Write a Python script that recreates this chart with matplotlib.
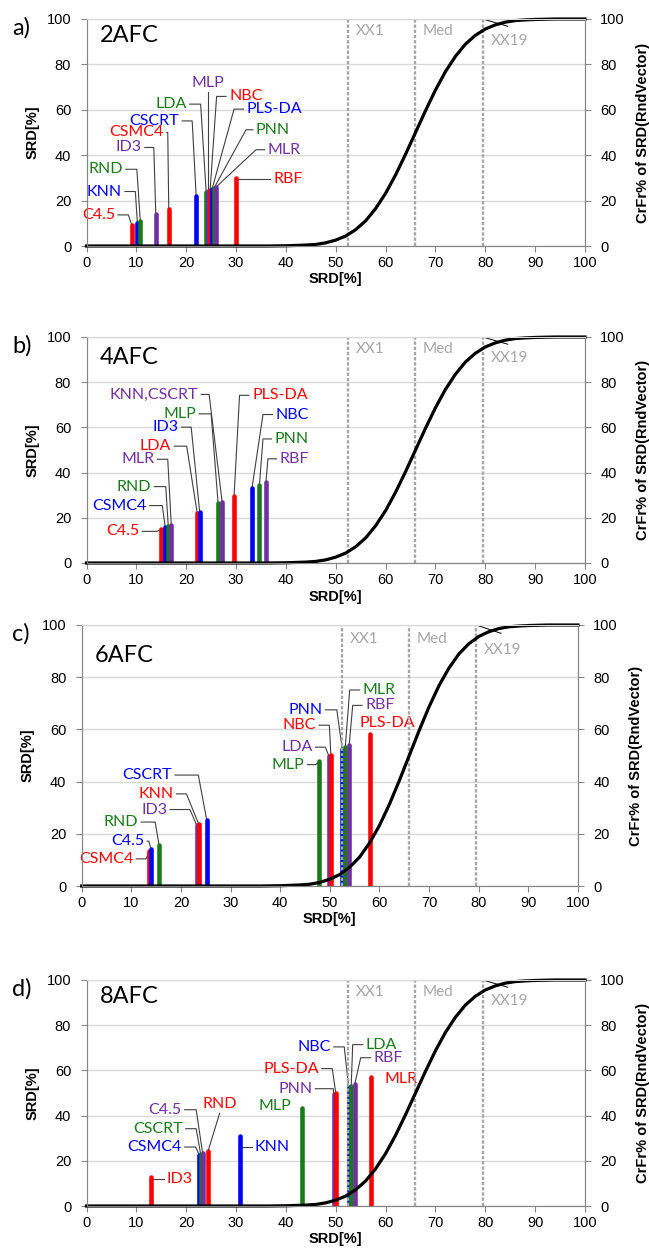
import matplotlib
matplotlib.use("Agg")
import matplotlib.pyplot as plt

plt.rcParams['font.family'] = ['Liberation Sans', 'DejaVu Sans']

# colours cycle by rank: red, blue, green, purple
palette = ['#ff0000', '#0000ff', '#1a7a1a', '#7030a0']
GRAY = '#a6a6a6'

# cumulative curve of SRD(RndVector)
cdf_x = [0, 36, 40, 44, 46, 48, 50, 52, 54, 56, 58, 60, 62, 64, 66, 68, 70,
         72, 74, 76, 78, 80, 82, 84, 86, 88, 90, 94, 100]
cdf_y = [0, 0, 0.1, 0.4, 0.7, 1.4, 2.6, 4.4, 7.2, 11.1, 16.5, 23.2, 31.3,
         40.4, 50, 59.6, 68.7, 76.8, 83.5, 88.9, 92.8, 95.6, 97.4, 98.6,
         99.3, 99.6, 99.8, 100, 100]
xx_names = ['XX1', 'Med', 'XX19']
xx_vals = [52.5, 65.9, 79.5]

# 2AFC
names_a = ["C4.5", "KNN", "RND", "ID3", "CSMC4", "CSCRT", "LDA", "MLP", "NBC",
           "PLS-DA", "PNN", "MLR", "RBF"]
srd_a = [9.1, 10.2, 10.8, 13.9, 16.5, 22.0, 24.0, 24.3, 24.8, 25.2, 25.6, 26.0, 29.9]

# 4AFC
names_b = ["C4.5", "CSMC4", "RND", "MLR", "LDA", "ID3", "MLP", "KNN,CSCRT",
           "PLS-DA", "NBC", "PNN", "RBF"]
srd_b = [15.0, 15.8, 16.4, 17.0, 22.2, 22.7, 26.4, 27.2, 29.6, 33.2, 34.7, 36.0]

# 6AFC
names_c = ["CSMC4", "C4.5", "RND", "ID3", "KNN", "CSCRT", "MLP", "LDA", "NBC",
           "PNN", "MLR", "RBF", "PLS-DA"]
srd_c = [13.6, 14.0, 15.6, 23.2, 23.6, 25.2, 47.9, 49.8, 50.2, 52.5, 53.1, 53.9, 58.1]

# 8AFC
names_d = ["ID3", "CSMC4", "CSCRT", "C4.5", "RND", "KNN", "MLP", "PNN", "PLS-DA",
           "NBC", "LDA", "RBF", "MLR"]
srd_d = [12.9, 22.6, 22.9, 23.3, 24.4, 30.8, 43.3, 49.6, 50.0, 52.6, 53.1, 53.8, 57.0]

# label placement (data coords), alignment and leader elbow
lab_a = dict(
    x=[5.7, 7.1, 7.3, 11.1, 15.5, 18.6, 20.1, 24.3, 28.6, 32.1, 34.0, 36.3, 37.5],
    y=[13.7, 24.0, 33.8, 43.4, 50.0, 55.1, 62.5, 71.8, 65.9, 60.3, 51.2, 42.4, 29.4],
    ha=['right'] * 7 + ['center'] + ['left'] * 5,
    elbow=[8.4, 9.8, 10.1, 13.5, 16.3, 21.2, 22.9, None, 26.1, 29.6, 32.0, 34.0, 29.9])
lab_b = dict(
    x=[10.6, 12.1, 13.0, 13.6, 17.0, 18.5, 22.0, 22.4, 33.2, 37.9, 37.7, 38.7],
    y=[14.0, 25.4, 33.8, 45.9, 51.7, 60.1, 66.0, 74.6, 74.2, 65.7, 54.9, 46.1],
    ha=['right'] * 8 + ['left'] * 4,
    elbow=[14.2, 15.2, 15.9, 16.3, 20.1, 21.0, 25.0, 24.6, 30.7, 35.4, 35.4, 36.4])
lab_c = dict(
    x=[10.4, 12.6, 11.4, 17.2, 18.5, 18.2, 44.9, 46.5, 47.2, 48.5, 56.6, 57.1, 55.9],
    y=[10.4, 17.2, 24.5, 29.3, 35.3, 42.5, 46.5, 53.2, 61.6, 67.5, 75.1, 69.2, 62.4],
    ha=['right'] * 10 + ['left'] * 3,
    elbow=[13.0, 13.5, 14.8, 21.8, 21.1, 23.5, 47.2, 49.1, 49.9, 51.4, 54.0, 54.6, None])
lab_d = dict(
    x=[16.1, 19.1, 19.3, 19.1, 26.7, 33.8, 41.1, 45.3, 46.6, 49.0, 56.0, 57.6, 59.7],
    y=[12.1, 26.1, 34.2, 42.6, 45.0, 26.1, 44.1, 51.9, 60.8, 70.4, 71.4, 65.6, 56.3],
    ha=['left', 'right', 'right', 'right', 'center', 'left', 'right', 'right',
        'right', 'right', 'left', 'left', 'left'],
    elbow=[12.9, 21.9, 22.0, 22.0, None, 30.8, None, 49.5, 49.3, 51.7, 53.4, 55.0, None])

W, H = 649, 1256
fig = plt.figure(figsize=(W / 100, H / 100), dpi=100)


def draw_panel(box, letter, title, title_off, names, srd, lab):
    left, top, right, bottom = box
    ax = fig.add_axes([left / W, 1 - bottom / H, (right - left) / W, (bottom - top) / H])
    ax.set_xlim(0, 100)
    ax.set_ylim(0, 100)
    ax.set_xticks(range(0, 101, 10))
    ax.set_yticks(range(0, 101, 20))
    ax.grid(axis='y', color='#d9d9d9', lw=1)
    ax.set_axisbelow(True)
    for s in ax.spines.values():
        s.set_color('#868686')
    ax.spines['top'].set_color('#d9d9d9')
    ax.tick_params(colors='#868686', labelcolor='black', length=4, labelsize=10.5)
    ax.tick_params(axis='y', pad=7)
    ax.tick_params(axis='x', pad=3)
    ax.set_xlabel('SRD[%]', fontweight='bold', fontsize=10.5, labelpad=2)
    ax.set_ylabel('SRD[%]', fontweight='bold', fontsize=10.5, labelpad=5)

    for i, v in enumerate(srd):
        ax.plot([v, v], [0, v], color=palette[i % 4], lw=3.3,
                solid_capstyle='round', zorder=3)

    for i, name in enumerate(names):
        lx, ly, ha, e = lab['x'][i], lab['y'][i], lab['ha'][i], lab['elbow'][i]
        v = srd[i]
        ax.text(lx, ly, name, color=palette[i % 4], ha=ha, va='center',
                fontsize=11.5, family=['Lato', 'DejaVu Sans'], zorder=4)
        if ha == 'center':
            ax.plot([lx, v], [ly - 4, v], color='#404040', lw=0.8, zorder=2)
        elif e is not None:
            gap = 0.6 if ha == 'right' else -0.6
            ax.plot([lx + gap, e, v], [ly, ly, v], color='#404040', lw=0.8, zorder=2)

    ax2 = ax.twinx()
    ax2.set_ylim(0, 100)
    ax2.set_yticks(range(0, 101, 20))
    for s in ax2.spines.values():
        s.set_color('#868686')
    ax2.spines['top'].set_color('#d9d9d9')
    ax2.tick_params(colors='#868686', labelcolor='black', length=4, labelsize=10.5, pad=7)
    ax2.set_ylabel('CrFr% of SRD(RndVector)', fontweight='bold', fontsize=10.5, labelpad=8)

    for name, xv in zip(xx_names, xx_vals):
        ax2.axvline(xv, color=GRAY, lw=1.7, ls=(0, (1.4, 0.8)))
        ty = 90.5 if name == 'XX19' else 94.5
        ax2.text(xv + 1.6, ty, name, color=GRAY, fontsize=11, va='center',
                 family=['Lato', 'DejaVu Sans'])
    ax2.plot([79.5, 84.5], [100, 96.8], color='black', lw=0.7)
    ax2.plot(cdf_x, cdf_y, color='black', lw=2.3, clip_on=False)

    ax.annotate(title, xy=(0, 1), xycoords='axes fraction', xytext=(13, -title_off),
                textcoords='offset pixels', ha='left', va='top', fontsize=17,
                family=['Lato', 'DejaVu Sans'])
    fig.text(12 / W, 1 - (top + 9) / H, letter, fontsize=17, ha='left', va='center',
             family=['Lato', 'DejaVu Sans'])


draw_panel((86.5, 19, 585, 246), 'a)', '2AFC', 6, names_a, srd_a, lab_a)
draw_panel((86.5, 337, 585, 563), 'b)', '4AFC', 10, names_b, srd_b, lab_b)
draw_panel((81.7, 625, 578, 886), 'c)', '6AFC', 20, names_c, srd_c, lab_c)
draw_panel((86.5, 980, 585, 1206), 'd)', '8AFC', 6, names_d, srd_d, lab_d)

fig.savefig('out.png', dpi=100)
